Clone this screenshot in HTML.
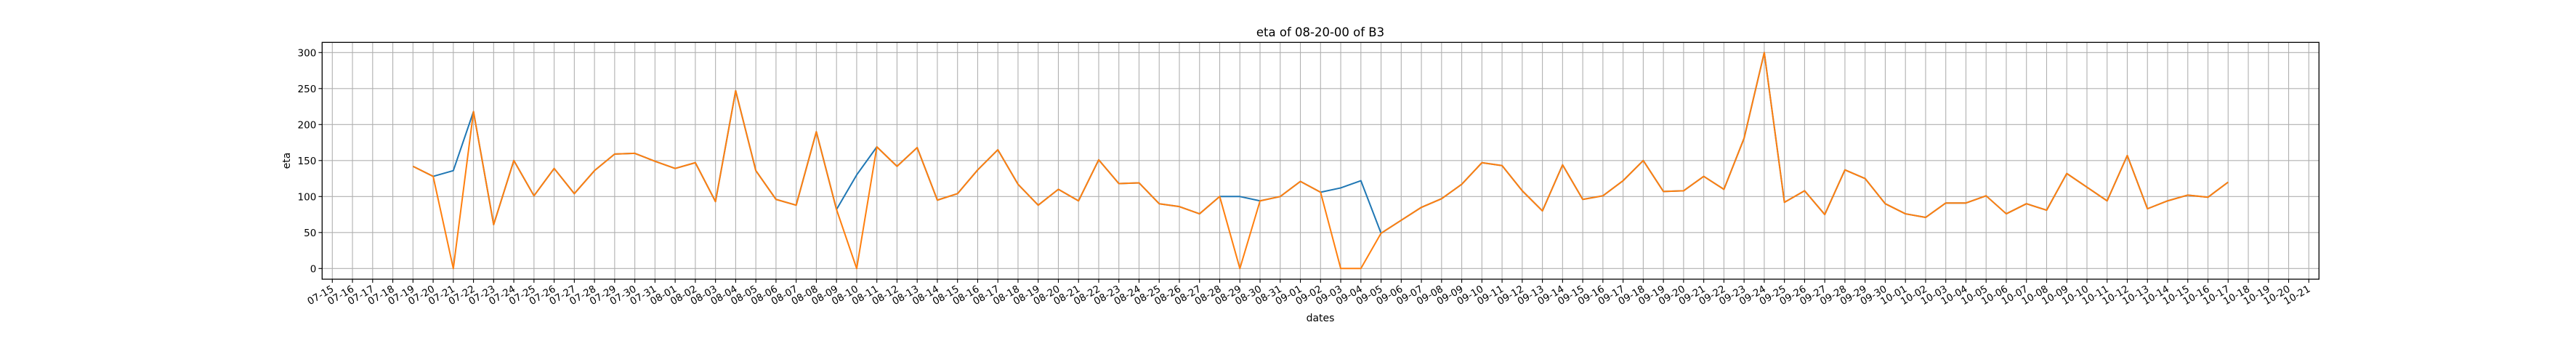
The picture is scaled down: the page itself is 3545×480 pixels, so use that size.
<!DOCTYPE html>
<html><head><meta charset="utf-8"><style>
html,body{margin:0;padding:0;background:#fff;}
svg{display:block;font-family:"DejaVu Sans","Liberation Sans",sans-serif;}
</style></head><body>
<svg id="chart" width="3545" height="480" viewBox="0 0 3545 480" xmlns="http://www.w3.org/2000/svg">
<rect x="0" y="0" width="3545" height="480" fill="#fff"/>
<g id="grid"></g>
<g id="series"></g>
<rect x="443.3" y="58.3" width="2748" height="325.7" fill="none" stroke="#000" stroke-width="1.3"/>
<g id="ticks"></g>
<text x="1817" y="50" font-size="16.5" text-anchor="middle">eta of 08-20-00 of B3</text>
<text x="1817" y="442" font-size="14" text-anchor="middle">dates</text>
<text x="0" y="0" font-size="14" text-anchor="middle" transform="translate(399,221) rotate(-90)">eta</text>
</svg>
<script>
// data: index 0 = 07-15; series start at startIndex
const startIndex = 4;
const etaOrange = [142,128,0,218,61,150,101,139,104,136,159,160,149,139,147,93,247,136,96,88,190,82,0,169,142,168,95,104,137,165,117,88,110,94,151,118,119,90,86,76,100,0,94,100,121,106,0,0,49,67,85,97,117,147,143,108,80,144,96,101,122,150,107,108,128,110,181,300,92,108,75,137,125,90,76,71,91,91,101,76,90,81,132,113,94,157,83,94,102,99,120];
const etaBlue = [142,128,136,218,61,150,101,139,104,136,159,160,149,139,147,93,247,136,96,88,190,82,130,169,142,168,95,104,137,165,117,88,110,94,151,118,119,90,86,76,100,100,94,100,121,106,112,122,49,67,85,97,117,147,143,108,80,144,96,101,122,150,107,108,128,110,181,300,92,108,75,137,125,90,76,71,91,91,101,76,90,81,132,113,94,157,83,94,102,99,120];
const yTicks = [0,50,100,150,200,250,300];
const tickStart = [2023,6,15]; // 07-15
const tickCount = 99;          // 07-15 .. 10-21

const NS = 'http://www.w3.org/2000/svg';
const L = 443.3, R = 3191.3, T = 58.3, B = 384;
function xs(i){ return 457.3 + i*27.755; }
function ys(v){ return 369.3 - v*0.99; }
function mk(tag, attrs, parent){
  const e = document.createElementNS(NS, tag);
  for (const k in attrs) e.setAttribute(k, attrs[k]);
  parent.appendChild(e); return e;
}
const grid = document.getElementById('grid');
const ticks = document.getElementById('ticks');
const series = document.getElementById('series');

const tickLabels = [];
for (let i = 0; i < tickCount; i++) {
  const d = new Date(tickStart[0], tickStart[1], tickStart[2] + i);
  tickLabels.push(String(d.getMonth()+1).padStart(2,'0') + '-' + String(d.getDate()).padStart(2,'0'));
}
tickLabels.forEach((lab, i) => {
  const x = xs(i);
  const g = mk('line', {x1:x, x2:x, y1:T, y2:B, stroke:'#b0b0b0', 'stroke-width':1.1}, grid);
  
  
  const t = mk('line', {x1:x, x2:x, y1:B, y2:B+4.9, stroke:'#000', 'stroke-width':1.1}, ticks);
  
  
  const tx = mk('text', {x:0, y:0, 'font-size':13.5, 'text-anchor':'end', transform:'translate('+(x+3)+','+(B+16)+') rotate(-30)'}, ticks);
  
  
  tx.textContent = lab;
});
yTicks.forEach(v => {
  const y = ys(v);
  const g = mk('line', {x1:L, x2:R, y1:y, y2:y, stroke:'#b0b0b0', 'stroke-width':1.1}, grid);
  
  
  const t = mk('line', {x1:L-4.9, x2:L, y1:y, y2:y, stroke:'#000', 'stroke-width':1.1}, ticks);
  
  
  const tx = mk('text', {x:L-8, y:y+5, 'font-size':13.5, 'text-anchor':'end'}, ticks);
  
  
  tx.textContent = v;
});
function pts(arr){ return arr.map((v,i)=> xs(i+startIndex).toFixed(2)+','+ys(v).toFixed(2)).join(' '); }
const pb = mk('polyline', {points:pts(etaBlue), fill:'none', stroke:'#1f77b4', 'stroke-width':2, 'stroke-linejoin':'round'}, series);


const po = mk('polyline', {points:pts(etaOrange), fill:'none', stroke:'#ff7f0e', 'stroke-width':2, 'stroke-linejoin':'round'}, series);


</script>
</body></html>
